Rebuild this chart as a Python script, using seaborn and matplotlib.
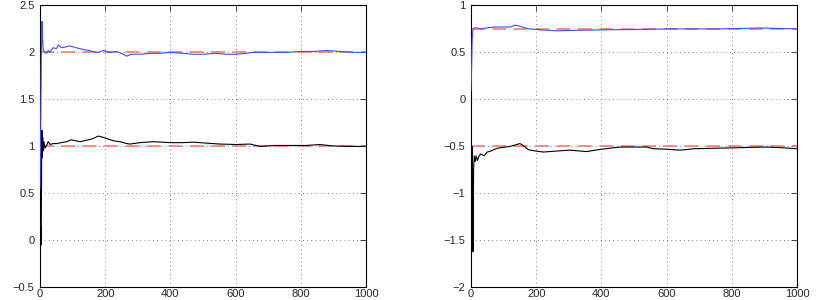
import numpy as np
import pandas as pd
import seaborn as sns
import matplotlib.pyplot as plt

# left panel, values
left_blue_x = [0, 2, 4, 6, 8, 10, 15, 20, 25, 30, 40, 50, 56, 66, 80, 92, 110, 123, 133, 150,
               174, 185, 194, 215, 235, 255, 266, 280, 307, 340, 370, 399, 440, 470, 500,
               540, 570, 603, 630, 654, 700, 756, 800, 840, 879, 920, 961, 1000]
left_blue_y = [0.55, 1.2, 1.95, 2.33, 2.12, 2.02, 2.0, 1.99, 2.02, 2.0, 2.05, 2.04, 2.08, 2.05,
               2.06, 2.07, 2.05, 2.04, 2.03, 2.02, 2.0, 2.01, 2.02, 2.0, 2.01, 1.98, 1.96,
               1.98, 1.98, 1.99, 1.99, 2.0, 1.99, 1.98, 1.98, 1.99, 1.98, 1.98, 1.99, 2.0,
               2.0, 2.0, 2.01, 2.01, 2.02, 2.01, 2.0, 2.0]
left_black_x = [0, 1, 2, 3, 4, 5, 6, 7, 8, 9, 10, 12, 15, 20, 25, 31, 40, 51, 65, 82, 95, 110,
                123, 135, 148, 160, 179, 190, 199, 225, 245, 266, 276, 307, 347, 399, 440,
                470, 510, 552, 603, 644, 675, 720, 756, 817, 858, 900, 940, 1000]
left_black_y = [0.2, 0.05, 0.15, -0.05, 0.3, 0.9, 1.17, 0.88, 1.1, 0.95, 1.0, 1.05, 0.98, 1.01,
                1.05, 1.02, 1.03, 1.03, 1.04, 1.05, 1.07, 1.06, 1.05, 1.06, 1.07, 1.08, 1.11,
                1.1, 1.09, 1.06, 1.05, 1.03, 1.025, 1.04, 1.05, 1.04, 1.04, 1.045, 1.035,
                1.025, 1.02, 1.025, 1.0, 1.01, 1.01, 1.01, 1.02, 1.005, 1.0, 1.0]

# right panel
right_blue_x = [0, 2, 3, 4, 6, 10, 17, 30, 48, 70, 89, 120, 135, 150, 166, 180, 211, 263,
                330, 405, 497, 600, 680, 764, 830, 886, 947, 1000]
right_blue_y = [0.08, 0.35, 0.55, 0.65, 0.74, 0.76, 0.76, 0.75, 0.76, 0.77, 0.77, 0.77, 0.79,
                0.78, 0.76, 0.75, 0.74, 0.73, 0.735, 0.74, 0.743, 0.75, 0.75, 0.75, 0.755,
                0.76, 0.755, 0.75]
right_black_x = [0, 1, 2, 3, 4, 5, 6, 7, 8, 10, 13, 16, 20, 25, 30, 40, 50, 60, 80, 100,
                 120, 140, 150, 160, 176, 200, 222, 260, 304, 355, 400, 457, 539, 560, 600,
                 642, 683, 740, 806, 860, 908, 960, 1000]
right_black_y = [0.1, -0.4, -0.9, -0.5, -1.2, -0.8, -1.62, -1.1, -0.75, -0.6, -0.66, -0.6,
                 -0.65, -0.6, -0.58, -0.6, -0.56, -0.55, -0.52, -0.51, -0.5, -0.48, -0.47,
                 -0.49, -0.535, -0.55, -0.56, -0.55, -0.54, -0.555, -0.53, -0.507, -0.507,
                 -0.525, -0.53, -0.54, -0.525, -0.52, -0.515, -0.51, -0.507, -0.515, -0.525]

left_targets = [2.0, 1.0]
right_targets = [0.75, -0.5]
left_ticks = [-0.5, 0, 0.5, 1, 1.5, 2, 2.5]
right_ticks = [-2, -1.5, -1, -0.5, 0, 0.5, 1]
x_ticks = [0, 200, 400, 600, 800, 1000]

sns.set_style("white")
plt.rcParams['font.family'] = ['Liberation Sans', 'DejaVu Sans']
plt.rcParams['axes.unicode_minus'] = True

fig = plt.figure(figsize=(8.17, 3.0), dpi=100)
ax1 = fig.add_axes([0.049, 0.042, 0.399, 0.94])
ax2 = fig.add_axes([0.5765, 0.042, 0.399, 0.94])


def label(v):
    return ('%g' % v).replace('-', '\u2212')


def draw(ax, bx, by, kx, ky, targets, yticks):
    for t in targets:
        ax.plot([0, 1000], [t, t], ls=(0, (9, 5)), color='#ff6f6f', lw=1.1, zorder=2)
    sns.lineplot(x=bx, y=by, ax=ax, color='#3c4cff', lw=0.8, estimator=None, zorder=3)
    sns.lineplot(x=kx, y=ky, ax=ax, color='black', lw=0.8, estimator=None, zorder=3)
    ax.set_xlim(0, 1000)
    ax.set_ylim(yticks[0], yticks[-1])
    ax.set_xticks(x_ticks)
    ax.set_yticks(yticks)
    ax.set_xticklabels([label(v) for v in x_ticks])
    ax.set_yticklabels([label(v) for v in yticks])
    ax.grid(True, ls=(0, (1, 4)), color='#555555', lw=0.6)
    ax.tick_params(direction='in', length=4, width=0.6, labelsize=8,
                   top=True, right=True)
    ax.tick_params(axis='x', pad=1)
    ax.tick_params(axis='y', pad=4)
    for s in ax.spines.values():
        s.set_color('black')
        s.set_linewidth(0.8)


draw(ax1, left_blue_x, left_blue_y, left_black_x, left_black_y, left_targets, left_ticks)
draw(ax2, right_blue_x, right_blue_y, right_black_x, right_black_y, right_targets, right_ticks)

fig.savefig('out.png', dpi=100)
